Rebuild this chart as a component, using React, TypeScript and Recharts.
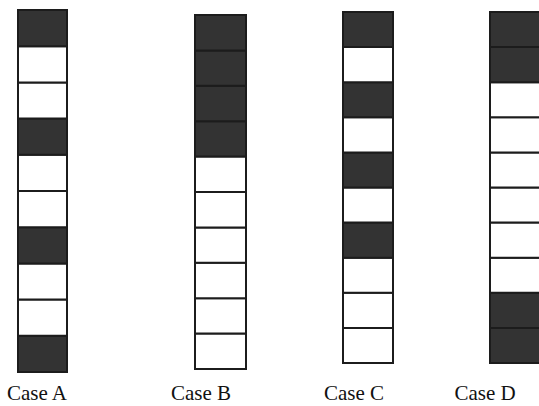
import { BarChart, Bar, XAxis, YAxis, Cell } from "recharts";

const CASES = ["Case A", "Case B", "Case C", "Case D"];

// cell colours, top to bottom (1 = dark, 0 = white)
const CELLS_A = [1, 0, 0, 1, 0, 0, 1, 0, 0, 1];
const CELLS_B = [1, 1, 1, 1, 0, 0, 0, 0, 0, 0];
const CELLS_C = [1, 0, 1, 0, 1, 0, 1, 0, 0, 0];
const CELLS_D = [1, 1, 0, 0, 0, 0, 0, 0, 1, 1];

const PATTERNS = [CELLS_A, CELLS_B, CELLS_C, CELLS_D];
const CELL_KEYS = CELLS_A.map((_, i) => `s${i}`);

// column boxes on the page: left, top, width, height, label centre
const LAYOUT = [
  { x: 18, y: 10, w: 49, h: 362, labelX: 37 },
  { x: 195, y: 15, w: 51, h: 354, labelX: 201 },
  { x: 343, y: 12, w: 50, h: 351, labelX: 354 },
  { x: 490, y: 12, w: 50, h: 351, labelX: 485 },
];

const DARK = "#333333";
const LINE = "#1c1c1c";
const W = 560;
const H = 406;

function CaseColumn({ index }: { index: number }) {
  const box = LAYOUT[index];
  const pattern = PATTERNS[index];
  const row: any = { name: CASES[index] };
  CELL_KEYS.forEach((k) => (row[k] = 1));
  const axisH = 2;

  const tick = ({ payload }: any) => (
    <text
      x={box.labelX}
      y={400}
      textAnchor="middle"
      fill="#111"
      fontFamily="'Liberation Serif', 'DejaVu Serif', serif"
      fontSize={21}
    >
      {payload.value}
    </text>
  );

  return (
    <div style={{ position: "absolute", left: 0, top: 0 }}>
      <BarChart
        width={W}
        height={H}
        data={[row]}
        barCategoryGap={0}
        margin={{
          top: box.y,
          left: box.x,
          right: W - box.x - box.w,
          bottom: H - box.y - box.h - axisH,
        }}
      >
        <XAxis dataKey="name" height={axisH} axisLine={false} tickLine={false} tick={tick} interval={0} />
        <YAxis hide domain={[0, CELL_KEYS.length]} />
        {CELL_KEYS.map((k, i) => (
          <Bar key={k} dataKey={k} stackId="col" stroke={LINE} strokeWidth={2} isAnimationActive={false}>
            <Cell fill={pattern[pattern.length - 1 - i] ? DARK : "#ffffff"} />
          </Bar>
        ))}
      </BarChart>
    </div>
  );
}

export default function App() {
  return (
    <div
      style={{
        position: "absolute",
        left: 0,
        top: 0,
        width: 539,
        height: 406,
        overflow: "hidden",
        background: "#fff",
      }}
    >
      {CASES.map((c, i) => (
        <CaseColumn key={c} index={i} />
      ))}
    </div>
  );
}
